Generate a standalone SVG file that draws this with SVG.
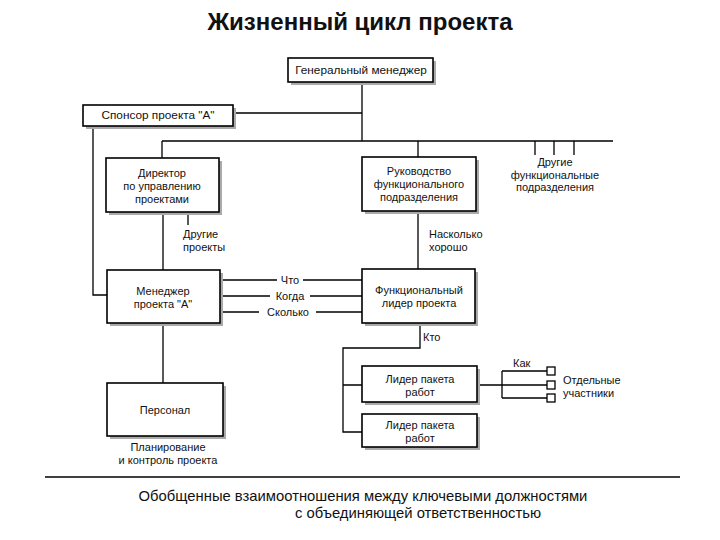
<svg xmlns="http://www.w3.org/2000/svg" width="720" height="540" viewBox="0 0 720 540">
<defs>
<style>
.box{fill:#fff;stroke:#000;stroke-width:1.6}
.sh{fill:#aaa}
.ln{fill:none;stroke:#000;stroke-width:1.3}
text{font-family:"Liberation Sans",Arial,sans-serif;font-size:11px;fill:#111}
.c{text-anchor:middle}
.cap{font-size:14.8px}
</style>
</defs>
<rect width="720" height="540" fill="#fff"/>
<text x="360" y="30" class="c" style="font-size:24px;font-weight:bold">Жизненный цикл проекта</text>

<g id="connectors">
<path class="ln" d="M362,82 V141 M233,113 H362 M162,141 H613 M162,141 V158"/>
<path class="ln" d="M93,126 V295 H107"/>
<path class="ln" d="M188,212 V225 M163,212 V270 M163,323 V383"/>
<path class="ln" d="M418,141 V157 M418,211 V269"/>
<path class="ln" d="M535,141 V155 M554,141 V155 M574,141 V155"/>
<path class="ln" d="M220,280 H277 M303,280 H362 M220,296 H270 M310,296 H362 M220,312 H259 M316,312 H362"/>
<path class="ln" d="M420,323 V348 H343 V432 H362 M343,385 H362"/>
<path class="ln" d="M477,385 H502 M502,371 V398 M502,371 H547 M502,385 H547 M502,398 H547"/>
<path class="ln" d="M45,477 H680"/>
</g>

<g id="gen-manager">
<rect class="sh" x="291" y="61" width="145" height="24"/>
<rect class="box" x="288" y="58" width="145" height="24"/>
<text x="361" y="74" class="c" style="font-size:11.8px">Генеральный менеджер</text>
</g>
<g id="sponsor">
<rect class="sh" x="86" y="108" width="150" height="21"/>
<rect class="box" x="83" y="105" width="150" height="21"/>
<text x="158" y="119" class="c" style="font-size:11.8px">Спонсор проекта "А"</text>
</g>
<g id="director">
<rect class="sh" x="109" y="161" width="113" height="54"/>
<rect class="box" x="106" y="158" width="113" height="54"/>
<text x="162" y="177" class="c">Директор</text>
<text x="162" y="190" class="c">по управлению</text>
<text x="162" y="202.5" class="c">проектами</text>
</g>
<g id="other-projects">
<text x="183" y="238">Другие</text>
<text x="183" y="251">проекты</text>
</g>
<g id="func-head">
<rect class="sh" x="365" y="160" width="114" height="54"/>
<rect class="box" x="362" y="157" width="114" height="54"/>
<text x="419" y="175" class="c">Руководство</text>
<text x="419" y="188" class="c">функционального</text>
<text x="419" y="200.5" class="c">подразделения</text>
</g>
<g id="other-func">
<text x="555" y="166" class="c">Другие</text>
<text x="555" y="178.5" class="c">функциональные</text>
<text x="555" y="191" class="c">подразделения</text>
</g>
<g id="how-well">
<text x="429" y="238">Насколько</text>
<text x="429" y="251">хорошо</text>
</g>
<g id="manager">
<rect class="sh" x="110" y="273" width="113" height="53"/>
<rect class="box" x="107" y="270" width="113" height="53"/>
<text x="163" y="295" class="c">Менеджер</text>
<text x="163" y="308" class="c">проекта "А"</text>
</g>
<g id="labels-what">
<text x="290" y="284" class="c">Что</text>
<text x="290" y="300" class="c">Когда</text>
<text x="288" y="316" class="c">Сколько</text>
</g>
<g id="func-leader">
<rect class="sh" x="365" y="272" width="113" height="54"/>
<rect class="box" x="362" y="269" width="113" height="54"/>
<text x="419" y="294" class="c">Функциональный</text>
<text x="419" y="307" class="c">лидер проекта</text>
</g>
<g id="who"><text x="423" y="341">Кто</text></g>
<g id="wp1">
<rect class="sh" x="365" y="369" width="115" height="36"/>
<rect class="box" x="362" y="366" width="115" height="36"/>
<text x="420" y="383" class="c">Лидер пакета</text>
<text x="420" y="396" class="c">работ</text>
</g>
<g id="wp2">
<rect class="sh" x="365" y="417" width="115" height="33"/>
<rect class="box" x="362" y="414" width="115" height="33"/>
<text x="420" y="429" class="c">Лидер пакета</text>
<text x="420" y="442" class="c">работ</text>
</g>
<g id="participants">
<rect class="box" x="547" y="367" width="8" height="8" style="stroke-width:1.3"/>
<rect class="box" x="547" y="381" width="8" height="8" style="stroke-width:1.3"/>
<rect class="box" x="547" y="394" width="8" height="8" style="stroke-width:1.3"/>
<text x="513" y="367">Как</text>
<text x="563" y="384">Отдельные</text>
<text x="563" y="397">участники</text>
</g>
<g id="personnel">
<rect class="sh" x="110" y="386" width="116" height="53"/>
<rect class="box" x="107" y="383" width="116" height="53"/>
<text x="165" y="414" class="c">Персонал</text>
<text x="168" y="451" class="c">Планирование</text>
<text x="168" y="464" class="c">и контроль проекта</text>
</g>
<g id="caption">
<text x="363" y="501" class="c cap">Обобщенные взаимоотношения между ключевыми должностями</text>
<text x="418" y="518" class="c cap">с объединяющей ответственностью</text>
</g>
</svg>
